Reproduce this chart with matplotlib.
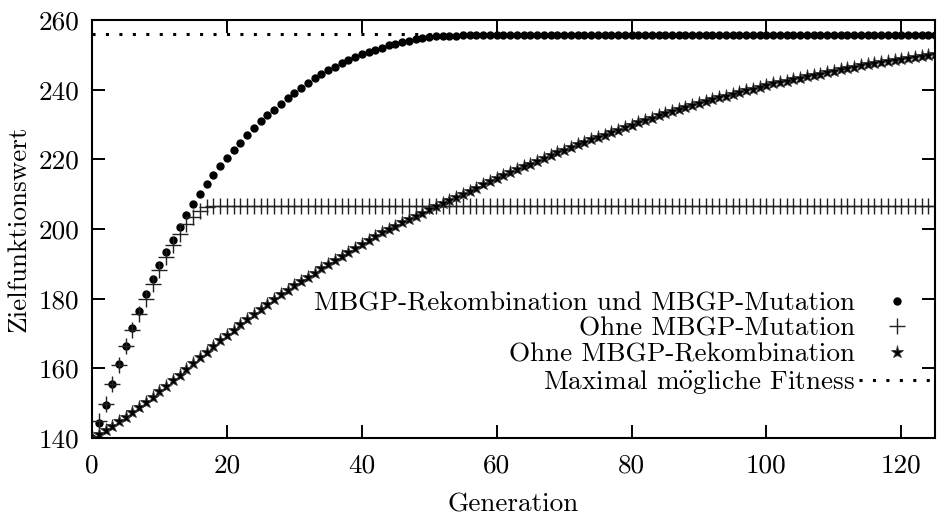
import numpy as np
import matplotlib
matplotlib.use('Agg')
import matplotlib.pyplot as plt

plt.rcParams['font.family'] = ['cmr10', 'DejaVu Serif']
plt.rcParams['mathtext.fontset'] = 'cm'
plt.rcParams['axes.formatter.use_mathtext'] = True

# mean best fitness per generation, 0..125
gen = np.arange(126)

full = [
    140.0, 144.2, 149.5, 155.4, 161.2, 166.4, 171.5, 176.4, 181.2, 185.6,
    189.6, 193.3, 196.8, 200.5, 204.0, 207.1, 210.0, 212.8, 215.6, 218.2,
    220.5, 222.6, 224.8, 226.9, 229.0, 230.9, 232.6, 234.3, 236.0, 237.6,
    239.1, 240.6, 242.0, 243.3, 244.5, 245.6, 246.6, 247.6, 248.5, 249.3,
    250.1, 250.8, 251.5, 252.1, 252.7, 253.2, 253.7, 254.1, 254.5, 254.8,
    255.1, 255.3, 255.4, 255.5, 255.5, 255.6, 255.6, 255.6, 255.6, 255.6,
    255.6, 255.6, 255.6, 255.6, 255.6, 255.6, 255.6, 255.6, 255.6, 255.6,
    255.6, 255.6, 255.6, 255.6, 255.6, 255.6, 255.6, 255.6, 255.6, 255.6,
    255.6, 255.6, 255.6, 255.6, 255.6, 255.6, 255.6, 255.6, 255.6, 255.6,
    255.6, 255.6, 255.6, 255.6, 255.6, 255.6, 255.6, 255.6, 255.6, 255.6,
    255.6, 255.6, 255.6, 255.6, 255.6, 255.6, 255.6, 255.6, 255.6, 255.6,
    255.6, 255.6, 255.6, 255.6, 255.6, 255.6, 255.6, 255.6, 255.6, 255.6,
    255.6, 255.6, 255.6, 255.6, 255.6, 255.6,
]

no_mut = [
    140.0, 145.0, 149.9, 155.6, 161.0, 166.4, 171.1, 175.7, 180.0, 184.1,
    188.3, 192.0, 195.4, 198.5, 201.3, 203.5, 205.2, 206.2, 206.5, 206.6,
    206.6, 206.6, 206.6, 206.6, 206.6, 206.6, 206.6, 206.6, 206.6, 206.6,
    206.6, 206.6, 206.6, 206.6, 206.6, 206.6, 206.6, 206.6, 206.6, 206.6,
    206.6, 206.6, 206.6, 206.6, 206.6, 206.6, 206.6, 206.6, 206.6, 206.6,
    206.6, 206.6, 206.6, 206.6, 206.6, 206.6, 206.6, 206.6, 206.6, 206.6,
    206.6, 206.6, 206.6, 206.6, 206.6, 206.6, 206.6, 206.6, 206.6, 206.6,
    206.6, 206.6, 206.6, 206.6, 206.6, 206.6, 206.6, 206.6, 206.6, 206.6,
    206.6, 206.6, 206.6, 206.6, 206.6, 206.6, 206.6, 206.6, 206.6, 206.6,
    206.6, 206.6, 206.6, 206.6, 206.6, 206.6, 206.6, 206.6, 206.6, 206.6,
    206.6, 206.6, 206.6, 206.6, 206.6, 206.6, 206.6, 206.6, 206.6, 206.6,
    206.6, 206.6, 206.6, 206.6, 206.6, 206.6, 206.6, 206.6, 206.6, 206.6,
    206.6, 206.6, 206.6, 206.6, 206.6, 206.6,
]

no_rec = [
    140.0, 141.1, 142.3, 143.5, 144.8, 146.1, 147.5, 148.9, 150.4, 151.9,
    153.4, 155.0, 156.6, 158.2, 159.9, 161.5, 163.2, 164.8, 166.4, 168.0,
    169.6, 171.1, 172.6, 174.1, 175.6, 177.0, 178.4, 179.8, 181.2, 182.5,
    183.8, 185.1, 186.3, 187.5, 188.7, 189.9, 191.1, 192.3, 193.5, 194.6,
    195.7, 196.8, 197.9, 199.0, 200.0, 201.0, 202.0, 202.9, 203.8, 204.7,
    205.6, 206.5, 207.4, 208.3, 209.2, 210.1, 211.0, 211.9, 212.8, 213.7,
    214.6, 215.5, 216.4, 217.2, 218.0, 218.8, 219.6, 220.4, 221.2, 222.0,
    222.8, 223.6, 224.3, 225.0, 225.7, 226.4, 227.1, 227.8, 228.5, 229.2,
    229.9, 230.6, 231.3, 232.0, 232.6, 233.2, 233.8, 234.4, 235.0, 235.6,
    236.2, 236.8, 237.3, 237.8, 238.3, 238.8, 239.3, 239.8, 240.3, 240.8,
    241.3, 241.8, 242.2, 242.6, 243.0, 243.4, 243.8, 244.2, 244.6, 245.0,
    245.4, 245.8, 246.2, 246.6, 247.0, 247.3, 247.6, 247.9, 248.2, 248.5,
    248.8, 249.1, 249.4, 249.7, 249.9, 250.1, 250.4,
][:126]

max_fitness = 256

labels = ['MBGP-Rekombination und MBGP-Mutation',
          'Ohne MBGP-Mutation',
          'Ohne MBGP-Rekombination',
          r'Maximal m$\ddot{\mathrm{o}}$gliche Fitness']

xticks = [0, 20, 40, 60, 80, 100, 120]
yticks = [140, 160, 180, 200, 220, 240, 260]

FS = 19.6

fig = plt.figure(figsize=(9.38, 5.18), dpi=100)
ax = fig.add_axes([0.0981, 0.1544, 0.8987, 0.8070])

ax.plot(gen, full, ls='none', marker='o', ms=5.0, color='black', label=labels[0])
ax.plot(gen, no_mut, ls='none', marker='+', ms=11.5, mew=1.0, color='#222222', label=labels[1])
ax.plot(gen, no_rec, ls='none', marker='*', ms=9.5, mew=0.6, mfc='black', mec='#333333', label=labels[2])
ax.axhline(max_fitness, color='black', lw=2.2, ls=(0, (1, 3.4)), label=labels[3])

ax.set_xlim(0, 125)
ax.set_ylim(140, 260)
ax.set_xticks(xticks)
ax.set_yticks(yticks)
ax.set_xticklabels([str(t) for t in xticks])
ax.set_yticklabels([str(t) for t in yticks])
ax.tick_params(direction='in', length=9.4, width=1.4, top=True, right=True,
               labelsize=FS, pad=9)
ax.tick_params(axis='x', pad=11)
for sp in ax.spines.values():
    sp.set_linewidth(1.5)

ax.set_xlabel('Generation', fontsize=FS, labelpad=11)
ax.set_ylabel('Zielfunktionswert', fontsize=FS, labelpad=6)

ax.legend(loc='lower right', bbox_to_anchor=(1.0, 0.10), markerfirst=False,
          frameon=False, fontsize=FS, borderpad=0, borderaxespad=0,
          handlelength=2.8, handletextpad=0.15, labelspacing=0.06)

fig.savefig('out.png', dpi=100, facecolor='white')
